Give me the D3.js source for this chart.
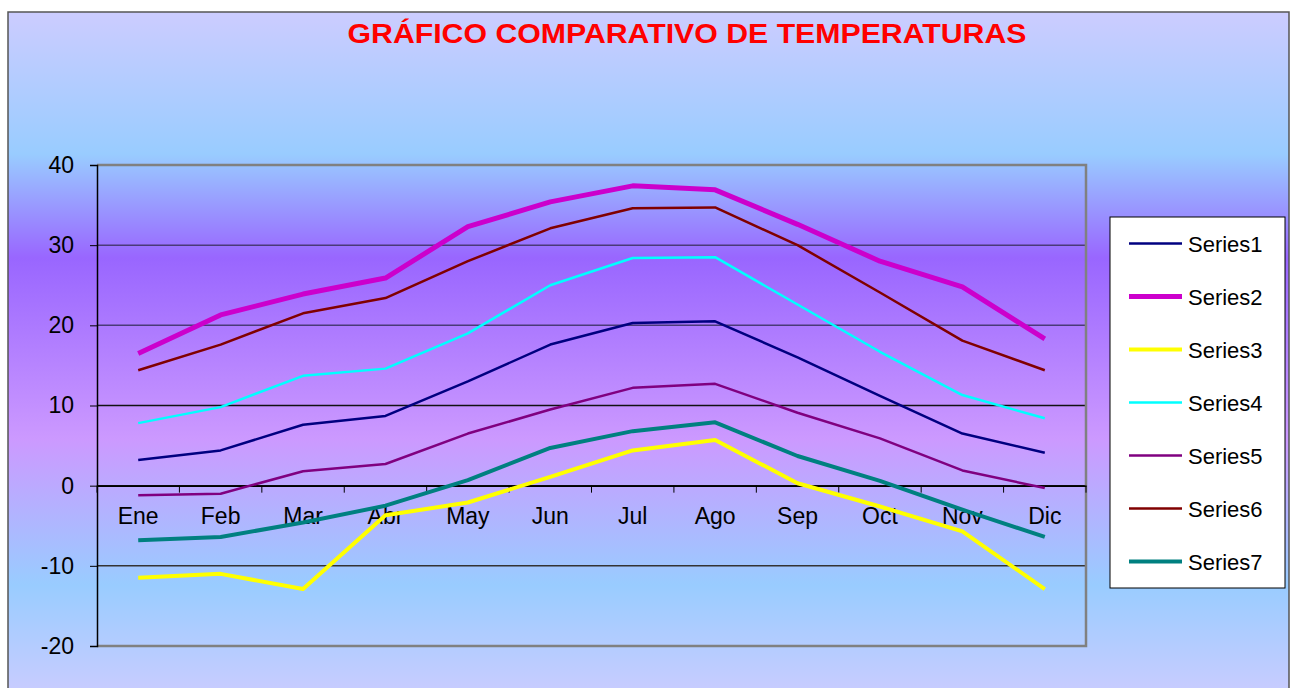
<!DOCTYPE html>
<html>
<head>
<meta charset="utf-8">
<script src="https://cdn.jsdelivr.net/npm/d3@7"></script>
<style>
  body { margin: 0; background: #fff; }
  svg { display: block; font-family: Arial, "Liberation Sans", sans-serif; }
</style>
</head>
<body>
<div class="chart-container"></div>
<script>
const width = 1293, height = 688;

// data
var months = ["Ene", "Feb", "Mar", "Abr", "May", "Jun", "Jul", "Ago", "Sep", "Oct", "Nov", "Dic"];
var series1 = [3.2, 4.4, 7.6, 8.7, 13.0, 17.6, 20.3, 20.5, 16.0, 11.2, 6.5, 4.1];
var series2 = [16.5, 21.3, 23.9, 25.9, 32.3, 35.4, 37.4, 36.9, 32.6, 28.0, 24.8, 18.3];
var series3 = [-11.5, -11.0, -12.9, -3.7, -2.1, 1.1, 4.4, 5.7, 0.3, -2.6, -5.7, -12.9];
var series4 = [7.8, 9.8, 13.7, 14.6, 19.0, 25.0, 28.4, 28.5, 22.6, 16.7, 11.3, 8.4];
var series5 = [-1.2, -1.0, 1.8, 2.7, 6.5, 9.5, 12.2, 12.7, 9.1, 5.9, 1.9, -0.3];
var series6 = [14.4, 17.6, 21.5, 23.4, 28.0, 32.1, 34.6, 34.7, 30.0, 24.1, 18.1, 14.4];
var series7 = [-6.8, -6.4, -4.6, -2.5, 0.7, 4.7, 6.8, 7.9, 3.7, 0.6, -3.0, -6.4];
var yTicks = [-20, -10, 0, 10, 20, 30, 40];

var seriesList = [
    {name: "Series1", values: series1, color: "#000080", w: 2.5},
    {name: "Series2", values: series2, color: "#cc00cc", w: 5},
    {name: "Series3", values: series3, color: "#ffff00", w: 4},
    {name: "Series4", values: series4, color: "#00ffff", w: 2.5},
    {name: "Series5", values: series5, color: "#800080", w: 2.5},
    {name: "Series6", values: series6, color: "#800000", w: 2.5},
    {name: "Series7", values: series7, color: "#008080", w: 4}
];

var svg = d3.select(".chart-container")
    .append("svg")
    .attr("width", width)
    .attr("height", height);

// background gradient of the whole chart area
var grad = svg.append("defs").append("linearGradient")
    .attr("id", "bg")
    .attr("gradientUnits", "userSpaceOnUse")
    .attr("x1", 0).attr("y1", 12).attr("x2", 0).attr("y2", 700);
[[12, "#ccccff"], [154, "#99ccff"], [258, "#9966ff"], [439, "#cc99ff"], [585, "#99ccff"], [700, "#ccccff"]]
    .forEach(s => grad.append("stop")
        .attr("offset", (s[0] - 12) / 688)
        .attr("stop-color", s[1]));

svg.append("rect")
    .attr("x", 8).attr("y", 12)
    .attr("width", 1281).attr("height", 690)
    .attr("fill", "url(#bg)")
    .attr("stroke", "#555")
    .attr("stroke-width", 1.5);

svg.append("text")
    .attr("x", 687).attr("y", 43)
    .attr("text-anchor", "middle")
    .attr("font-size", 27)
    .attr("font-weight", "bold")
    .attr("fill", "#ff0000")
    .attr("textLength", 679)
    .attr("lengthAdjust", "spacingAndGlyphs")
    .text("GRÁFICO COMPARATIVO DE TEMPERATURAS");

var plot = {left: 97, top: 165, right: 1086, bottom: 646};

var x = d3.scaleBand().domain(months).range([plot.left, plot.right]);
var y = d3.scaleLinear().domain([-20, 40]).range([plot.bottom, plot.top]);
var cx = m => x(m) + x.bandwidth() / 2;

var g = svg.append("g");

// gridlines
g.selectAll(".grid")
    .data(yTicks.filter(v => v > -20 && v < 40))
    .enter()
    .append("line")
    .attr("x1", plot.left).attr("x2", plot.right)
    .attr("y1", d => y(d)).attr("y2", d => y(d))
    .attr("stroke", d => d >= 20 ? "#4a3a78" : (d < 0 ? "#333" : "#111"))
    .attr("stroke-width", 1.5);

// plot area border (top / right / bottom)
g.append("path")
    .attr("d", `M${plot.left},${plot.top}H${plot.right}V${plot.bottom}H${plot.left}`)
    .attr("fill", "none")
    .attr("stroke", "#808080")
    .attr("stroke-width", 2.5);

// y axis
var yAxis = g.append("g")
    .attr("transform", `translate(${plot.left},0)`)
    .call(d3.axisLeft(y).tickValues(yTicks).tickFormat(d => String(d)).tickSize(7).tickPadding(16));
yAxis.select(".domain").attr("stroke", "#000").attr("stroke-width", 1.5);
yAxis.selectAll(".tick line").attr("stroke", "#000");
yAxis.selectAll("text").attr("font-size", 23).attr("fill", "#000")
    .attr("font-family", "Arial, 'Liberation Sans', sans-serif");

// x axis on the zero line, ticks between categories
var xAxis = g.append("g")
    .attr("transform", `translate(0,${y(0)})`)
    .call(d3.axisBottom(x).tickSize(0).tickPadding(22));
xAxis.select(".domain").attr("stroke", "#000").attr("stroke-width", 1.5);
xAxis.selectAll("text").attr("font-size", 23).attr("fill", "#000")
    .attr("font-family", "Arial, 'Liberation Sans', sans-serif");
xAxis.selectAll(".sep")
    .data(months.map(m => x(m)).concat([plot.right]))
    .enter()
    .append("line")
    .attr("x1", d => d).attr("x2", d => d)
    .attr("y1", 0).attr("y2", 7)
    .attr("stroke", "#000");

// series lines
var line = d3.line()
    .x((d, i) => cx(months[i]))
    .y(d => y(d));

g.selectAll(".series")
    .data(seriesList)
    .enter()
    .append("path")
    .attr("d", d => line(d.values))
    .attr("fill", "none")
    .attr("stroke", d => d.color)
    .attr("stroke-width", d => d.w)
    .attr("stroke-linejoin", "round");

// legend
var legend = svg.append("g");
legend.append("rect")
    .attr("x", 1110).attr("y", 217)
    .attr("width", 175).attr("height", 371)
    .attr("fill", "#fff")
    .attr("stroke", "#000")
    .attr("stroke-width", 1);

var items = legend.selectAll(".item")
    .data(seriesList)
    .enter()
    .append("g")
    .attr("transform", (d, i) => `translate(0,${243.5 + i * 53})`);
items.append("line")
    .attr("x1", 1129).attr("x2", 1182)
    .attr("stroke", d => d.color)
    .attr("stroke-width", d => d.w);
items.append("text")
    .attr("x", 1188).attr("y", 8)
    .attr("font-size", 22)
    .attr("fill", "#000")
    .text(d => d.name);
</script>
</body>
</html>
